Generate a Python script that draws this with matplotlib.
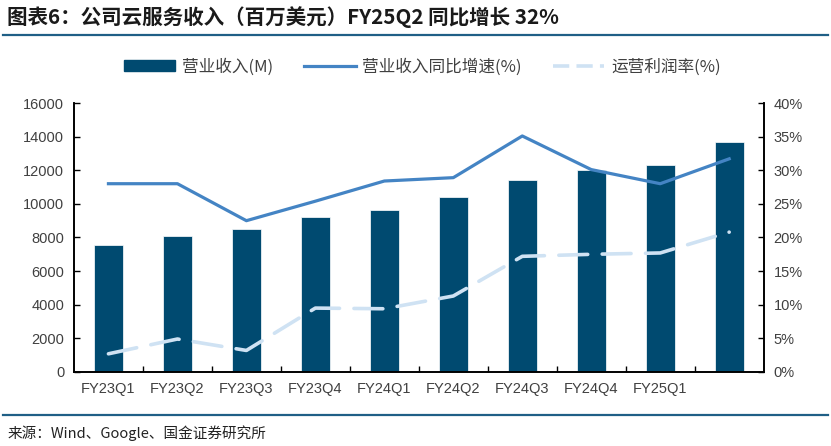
import matplotlib
matplotlib.use('Agg')
import matplotlib.pyplot as plt
from matplotlib.patches import Patch
from matplotlib.lines import Line2D
from matplotlib.ticker import FuncFormatter, MultipleLocator, FixedLocator

plt.rcParams['font.family'] = ['Noto Sans CJK SC', 'DejaVu Sans']

# 数据
quarters = ['FY23Q1', 'FY23Q2', 'FY23Q3', 'FY23Q4', 'FY24Q1', 'FY24Q2',
            'FY24Q3', 'FY24Q4', 'FY25Q1', 'FY25Q2']
revenue = [7550, 8090, 8490, 9220, 9620, 10410, 11420, 12000, 12290, 13660]
growth = [0.280, 0.280, 0.225, 0.254, 0.284, 0.289, 0.351, 0.301, 0.280, 0.317]
margin = [0.027, 0.049, 0.032, 0.095, 0.094, 0.113, 0.172, 0.175, 0.177, 0.208]
# 原图横轴最后一个标签没有显示
tick_labels = quarters[:9] + ['']

bar_color = '#004A70'
line_color = '#4484C4'
dash_color = '#CFE2F3'
text_color = '#404040'

fig = plt.figure(figsize=(8.31, 4.46), dpi=100)
ax = fig.add_axes([0.089, 0.166, 0.830, 0.603])
ax2 = ax.twinx()

x = list(range(len(quarters)))
ax.bar(x, revenue, width=0.42, color=bar_color, edgecolor='white', linewidth=0.5, zorder=2)
ax2.plot(x, growth, color=line_color, linewidth=2.3, zorder=3)
ax2.plot(x, margin, color=dash_color, linewidth=2.6, dashes=(8, 4),
         dash_capstyle='round', zorder=3)

ax.set_xlim(-0.5, 9.5)
ax.set_ylim(0, 16000)
ax2.set_ylim(0, 0.40)
ax.yaxis.set_major_locator(MultipleLocator(2000))
ax2.yaxis.set_major_locator(MultipleLocator(0.05))
ax2.yaxis.set_major_formatter(FuncFormatter(lambda v, p: '{:.0f}%'.format(v * 100)))

ax.set_xticks(x)
ax.set_xticklabels(tick_labels)
ax.xaxis.set_minor_locator(FixedLocator([i + 0.5 for i in range(9)]))
ax.tick_params(axis='x', which='major', length=0, pad=7)
ax.tick_params(axis='x', which='minor', length=4, direction='in', width=1)
ax.tick_params(axis='y', direction='in', length=4, width=1, pad=7)
ax2.tick_params(axis='y', direction='in', length=4, width=1, pad=7)

for a in (ax, ax2):
    for lab in a.get_xticklabels() + a.get_yticklabels():
        lab.set_family(['Liberation Sans', 'DejaVu Sans'])
        lab.set_fontsize(10.5)
        lab.set_color(text_color)
    a.spines['top'].set_visible(False)
    for s in ('left', 'right', 'bottom'):
        a.spines[s].set_linewidth(1.2)
        a.spines[s].set_color('black')

# 图例
handles = [Patch(color=bar_color),
           Line2D([0], [0], color=line_color, linewidth=2.3),
           Line2D([0], [0], color=dash_color, linewidth=2.6, dashes=(4.5, 2))]
labels = ['营业收入(M)', '营业收入同比增速(%)', '运营利润率(%)']
leg = fig.legend(handles, labels, loc='center', bbox_to_anchor=(0.508, 0.85), ncol=3,
                 frameon=False, fontsize=12, handlelength=3.1, handleheight=0.6,
                 handletextpad=0.4, columnspacing=1.85)
for t in leg.get_texts():
    t.set_color(text_color)

# 标题和来源
fig.text(0.009, 0.962, '图表6：公司云服务收入（百万美元）FY25Q2 同比增长 32%',
         fontsize=14.8, fontweight='bold', style='italic', color='#1a1a1a', va='center')
fig.add_artist(Line2D([0.004, 0.996], [1 - 35 / 446, 1 - 35 / 446], color='#1F5F86', linewidth=1.6))
fig.add_artist(Line2D([0.004, 0.996], [1 - 415 / 446, 1 - 415 / 446], color='#1F5F86', linewidth=1.6))
fig.text(0.009, 1 - 433 / 446, '来源：Wind、Google、国金证券研究所', fontsize=10.5,
         color='#222222', va='center')

fig.savefig('out.png', dpi=100)
